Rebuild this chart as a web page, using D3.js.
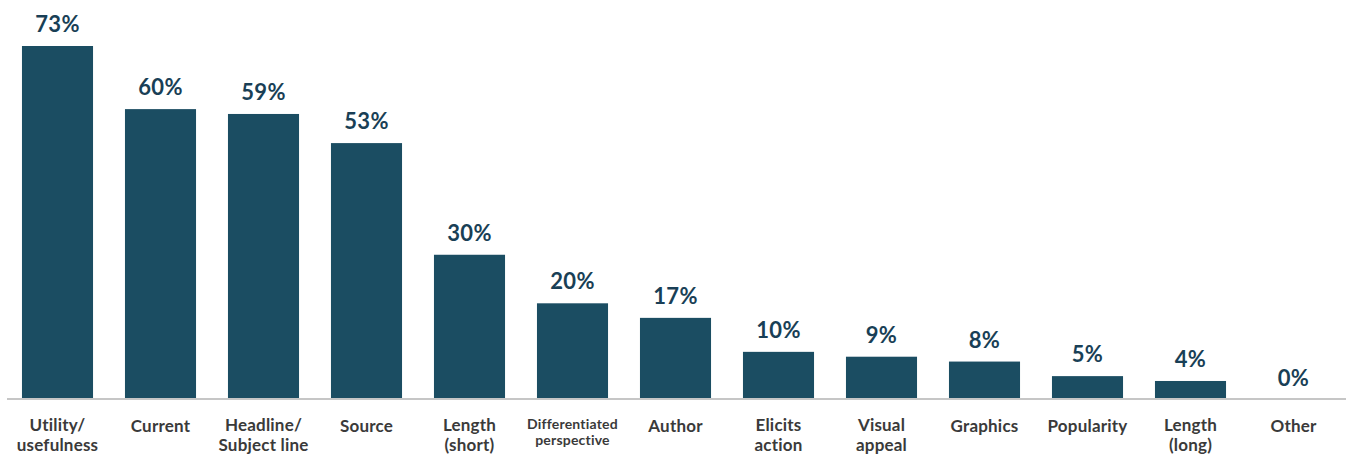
<!DOCTYPE html>
<html><head><meta charset="utf-8">
<script src="https://cdn.jsdelivr.net/npm/d3@7"></script>
<style>html,body{margin:0;padding:0;background:#fff;}svg{display:block;}</style>
</head><body>
<svg id="chart" width="1346" height="460"></svg>
<script>
const categories = ["Utility/|usefulness","Current","Headline/|Subject line","Source","Length|(short)","Differentiated|perspective","Author","Elicits|action","Visual|appeal","Graphics","Popularity","Length|(long)","Other"];
const values = [73,60,59,53,30,20,17,10,9,8,5,4,0];
const valueLabels = ["73%","60%","59%","53%","30%","20%","17%","10%","9%","8%","5%","4%","0%"];

const svg = d3.select("#chart");
const baseY = 398;
const x = d3.scaleBand().domain(categories).range([6, 1345]).paddingInner(0.31).paddingOuter(0.155);
const y = d3.scaleLinear().domain([0, 73]).range([400.4, 46]);

svg.selectAll("rect.bar").data(values).join("rect")
  .attr("class","bar")
  .attr("x",(d,i)=>x(categories[i]))
  .attr("width",x.bandwidth())
  .attr("y",d=>y(d))
  .attr("height",d=>Math.max(0, baseY-y(d)))
  .attr("fill","#1b4d62");

svg.append("line").attr("x1",7).attr("x2",1346).attr("y1",baseY+1).attr("y2",baseY+1)
  .attr("stroke","#c6c6c6").attr("stroke-width",2);

svg.selectAll("text.val").data(values).join("text")
  .attr("class","val")
  .attr("x",(d,i)=>x(categories[i])+x.bandwidth()/2)
  .attr("y",d=>y(d)-14)
  .attr("text-anchor","middle")
  .attr("font-family","Lato, sans-serif").attr("font-weight",700).attr("font-size",22)
  .attr("letter-spacing",0.4)
  .attr("fill","#193f56")
  .text((d,i)=>valueLabels[i]);

const lab = svg.selectAll("text.cat").data(categories).join("text")
  .attr("class","cat")
  .attr("x",d=>x(d)+x.bandwidth()/2)
  .attr("text-anchor","middle")
  .attr("font-family","Lato, sans-serif").attr("font-weight",700)
  .attr("font-size",d=>d.startsWith("Differentiated")?14:17)
  .attr("letter-spacing",0.2)
  .attr("fill","#3a3a3a");
lab.each(function(d){
  const parts = d.split("|");
  const t = d3.select(this);
  const small = d.startsWith("Differentiated");
  parts.forEach((p,j)=>{
    t.append("tspan").attr("x",x(d)+x.bandwidth()/2)
      .attr("y", parts.length===1 ? 432 : (small ? 429+j*16 : 431+j*20))
      .text(p);
  });
});
</script>
</body></html>
